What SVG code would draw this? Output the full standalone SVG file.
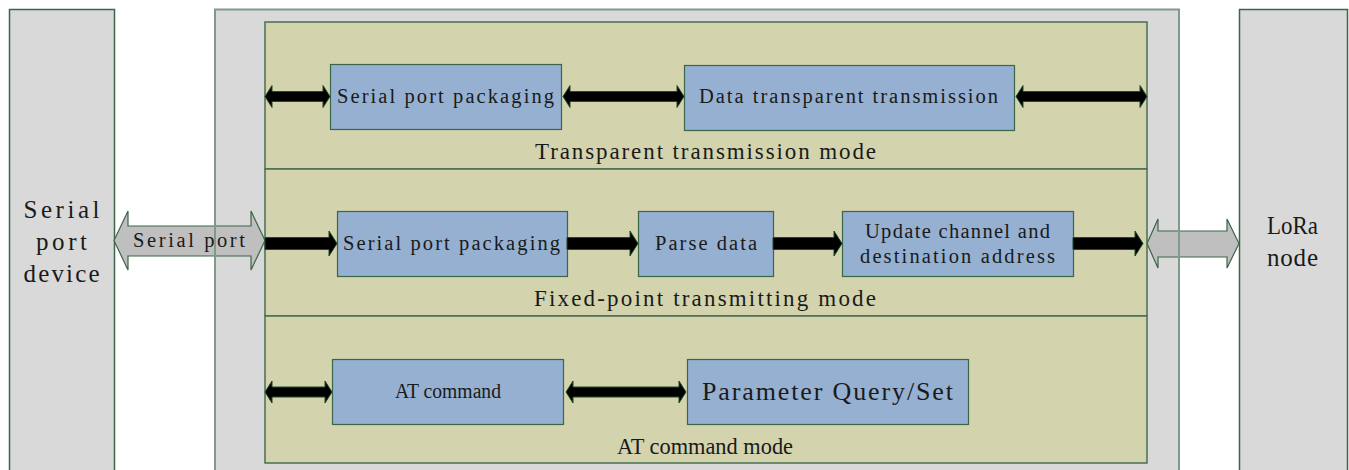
<svg xmlns="http://www.w3.org/2000/svg" width="1349" height="470" viewBox="0 0 1349 470">
<style>
.side{fill:#d9d9d9;stroke:#3b6647;stroke-width:1.5}
.main{fill:#d9d9d9;stroke:#7f9a88;stroke-width:2}
.outline{fill:none;stroke:#7f9a88;stroke-width:2}
.panel{fill:#d3d3ad;stroke:#4a6e52;stroke-width:1.5}
.box{fill:#95b0d0;stroke:#3b6647;stroke-width:1.2}
.blk{fill:#000;stroke:#1f4a2c;stroke-width:1}
.hol{fill:#bfbfbf;stroke:#3b6647;stroke-width:1.2}
text{font-family:"Liberation Serif","DejaVu Serif",serif;fill:#1a1a1a;text-anchor:middle}
.t20{font-size:20.5px}
.t23{font-size:23px}
.t26{font-size:26px}
.t25{font-size:25px}
</style>
<g id="serial-port-device">
<rect class="side" x="9.5" y="9.5" width="105" height="470"/>
<text class="t25" x="61.5" y="218" textLength="76" lengthAdjust="spacing">Serial</text>
<text class="t25" x="61.5" y="250" textLength="51" lengthAdjust="spacing">port</text>
<text class="t25" x="61.5" y="282" textLength="76" lengthAdjust="spacing">device</text>
</g>
<g id="module">
<rect class="main" x="215" y="9.5" width="964" height="470"/>
</g>
<g id="lora-node">
<rect class="side" x="1239.5" y="9.5" width="108" height="470"/>
<text class="t25" x="1292.5" y="234" textLength="51" lengthAdjust="spacingAndGlyphs">LoRa</text>
<text class="t25" x="1292.5" y="266" textLength="51" lengthAdjust="spacing">node</text>
</g>
<g id="transparent-mode">
<rect class="panel" x="265" y="22" width="882" height="147"/>
<text class="t23" x="705.5" y="159" textLength="341" lengthAdjust="spacing">Transparent transmission mode</text>
</g>
<g id="fixed-point-mode">
<rect class="panel" x="265" y="169" width="882" height="147"/>
<text class="t23" x="705" y="306" textLength="342" lengthAdjust="spacing">Fixed-point transmitting mode</text>
</g>
<g id="at-mode">
<rect class="panel" x="265" y="316" width="882" height="147"/>
<text class="t23" x="705" y="454" textLength="176" lengthAdjust="spacingAndGlyphs">AT command mode</text>
</g>
<g id="serial-packaging-1">
<rect class="box" x="330.5" y="64.5" width="231" height="65"/>
<text class="t20" x="445.5" y="103" textLength="217" lengthAdjust="spacing">Serial port packaging</text>
</g>
<g id="data-transparent">
<rect class="box" x="684.5" y="65.5" width="330" height="65"/>
<text class="t20" x="848.5" y="103" textLength="299" lengthAdjust="spacing">Data transparent transmission</text>
</g>
<g id="serial-packaging-2">
<rect class="box" x="337.5" y="211.5" width="230" height="65"/>
<text class="t20" x="451.5" y="250" textLength="217" lengthAdjust="spacing">Serial port packaging</text>
</g>
<g id="parse-data">
<rect class="box" x="638.5" y="211.5" width="135" height="65"/>
<text class="t20" x="706" y="250" textLength="102" lengthAdjust="spacing">Parse data</text>
</g>
<g id="update-channel">
<rect class="box" x="842.5" y="211.5" width="231" height="65"/>
<text class="t20" x="957.5" y="238" textLength="185" lengthAdjust="spacing">Update channel and</text>
<text class="t20" x="957.5" y="263" textLength="195" lengthAdjust="spacing">destination address</text>
</g>
<g id="at-command">
<rect class="box" x="332.5" y="359.5" width="231" height="65"/>
<text class="t20" x="448" y="398" textLength="106" lengthAdjust="spacingAndGlyphs">AT command</text>
</g>
<g id="param-query">
<rect class="box" x="687.5" y="359.5" width="281" height="65"/>
<text class="t26" x="827.5" y="400" textLength="251" lengthAdjust="spacing">Parameter Query/Set</text>
</g>
<g id="connectors">
<polygon class="hol" points="114,240.5 128,211 128,226 251,226 251,211 265,240.5 251,270 251,256 128,256 128,270"/>
<text class="t20" x="189" y="247" textLength="112" lengthAdjust="spacing">Serial port</text>
<polygon class="hol" points="1147,243.5 1158,219 1158,231 1227,231 1227,219 1239,243.5 1227,268 1227,257 1158,257 1158,268"/>
<polygon class="blk" points="265,96.5 272,85.5 272,91.5 323,91.5 323,85.5 330,96.5 323,107.5 323,101.5 272,101.5 272,107.5"/>
<polygon class="blk" points="563,96.5 570,85.5 570,91.5 677,91.5 677,85.5 684,96.5 677,107.5 677,101.5 570,101.5 570,107.5"/>
<polygon class="blk" points="1016,96.5 1023,85.5 1023,91.5 1140,91.5 1140,85.5 1147,96.5 1140,107.5 1140,101.5 1023,101.5 1023,107.5"/>
<polygon class="blk" points="265,237.5 329,237.5 329,231 337,243.5 329,256 329,249.5 265,249.5"/>
<polygon class="blk" points="567,237.5 630,237.5 630,231 638,243.5 630,256 630,249.5 567,249.5"/>
<polygon class="blk" points="773,237.5 834,237.5 834,231 842,243.5 834,256 834,249.5 773,249.5"/>
<polygon class="blk" points="1073,237.5 1135,237.5 1135,231 1143,243.5 1135,256 1135,249.5 1073,249.5"/>
<polygon class="blk" points="265,392 272,381 272,387 325,387 325,381 332,392 325,403 325,397 272,397 272,403"/>
<polygon class="blk" points="566,392 573,381 573,387 679,387 679,381 686,392 679,403 679,397 573,397 573,403"/>
</g>
<g id="module-outline">
<line class="outline" x1="215" y1="9.5" x2="215" y2="470"/>
<line class="outline" x1="1179" y1="9.5" x2="1179" y2="470"/>
</g>
</svg>
